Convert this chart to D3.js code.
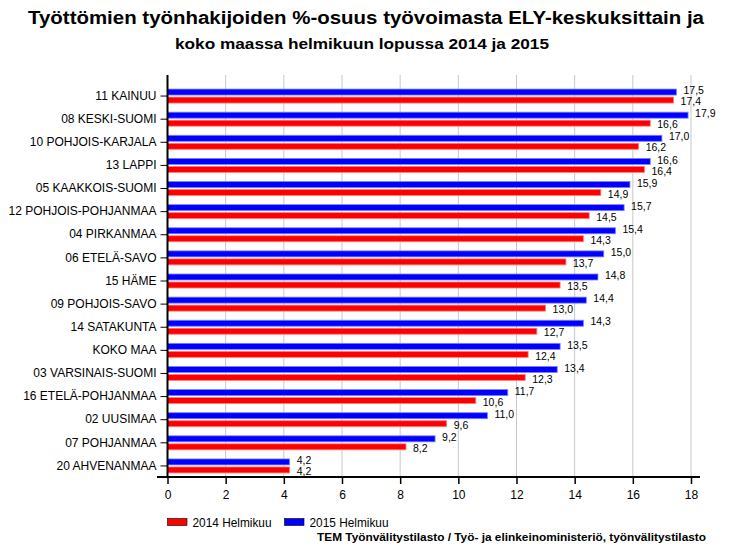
<!DOCTYPE html>
<html>
<head>
<meta charset="utf-8">
<script src="https://cdn.jsdelivr.net/npm/d3@7"></script>
<style>
  html, body { margin: 0; padding: 0; background: #fff; }
  svg { display: block; font-family: "Liberation Sans", Arial, sans-serif; }
</style>
</head>
<body>
<svg id="chart" width="732" height="549"></svg>
<script>
const categories = [
  "11 KAINUU", "08 KESKI-SUOMI", "10 POHJOIS-KARJALA", "13 LAPPI",
  "05 KAAKKOIS-SUOMI", "12 POHJOIS-POHJANMAA", "04 PIRKANMAA", "06 ETELÄ-SAVO",
  "15 HÄME", "09 POHJOIS-SAVO", "14 SATAKUNTA", "KOKO MAA",
  "03 VARSINAIS-SUOMI", "16 ETELÄ-POHJANMAA", "02 UUSIMAA", "07 POHJANMAA",
  "20 AHVENANMAA"
];
const values2015 = [17.5, 17.9, 17.0, 16.6, 15.9, 15.7, 15.4, 15.0, 14.8, 14.4, 14.3, 13.5, 13.4, 11.7, 11.0, 9.2, 4.2];
const values2014 = [17.4, 16.6, 16.2, 16.4, 14.9, 14.5, 14.3, 13.7, 13.5, 13.0, 12.7, 12.4, 12.3, 10.6, 9.6, 8.2, 4.2];
const xTicks = [0, 2, 4, 6, 8, 10, 12, 14, 16, 18];
const seriesNames = ["2014 Helmikuu", "2015 Helmikuu"];
const titleText = "Työttömien työnhakijoiden %-osuus työvoimasta ELY-keskuksittain ja";
const subtitleText = "koko maassa helmikuun lopussa 2014 ja 2015";
const sourceText = "TEM Työnvälitystilasto / Työ- ja elinkeinoministeriö, työnvälitystilasto";

const svg = d3.select("#chart");
const x0 = 167.5, x1 = 691;
const plotTop = 75, plotBottom = 477;

const x = d3.scaleLinear().domain([0, 18]).range([x0, x1]);
const y = d3.scaleBand().domain(categories).range([84.5, 477.5]);
const fmt = v => d3.format(".1f")(v).replace(".", ",");

// Title
svg.append("text").attr("x", 366).attr("y", 24).attr("text-anchor", "middle")
  .attr("font-size", 18).attr("font-weight", "bold")
  .attr("textLength", 676).attr("lengthAdjust", "spacingAndGlyphs").text(titleText);
svg.append("text").attr("x", 362).attr("y", 49).attr("text-anchor", "middle")
  .attr("font-size", 15).attr("font-weight", "bold")
  .attr("textLength", 374).attr("lengthAdjust", "spacingAndGlyphs").text(subtitleText);

// Gridlines
svg.append("g").selectAll("line").data(xTicks.filter(d => d > 0)).join("line")
  .attr("x1", d => x(d)).attr("x2", d => x(d))
  .attr("y1", plotTop).attr("y2", plotBottom)
  .attr("stroke", "#c8c8c8").attr("stroke-width", 1);

// Bars
const cy = d => y(d) + y.bandwidth() / 2;
const barG = svg.append("g");
const data = categories.map((c, i) => ({ c, v15: values2015[i], v14: values2014[i] }));

barG.selectAll("rect.b15").data(data).join("rect").attr("class", "b15")
  .attr("x", x(0)).attr("y", d => cy(d.c) - 7)
  .attr("width", d => x(d.v15) - x(0)).attr("height", 6)
  .attr("fill", "#0000ff").attr("stroke", "#7f7fff").attr("stroke-width", 0.8);
barG.selectAll("rect.b14").data(data).join("rect").attr("class", "b14")
  .attr("x", x(0)).attr("y", d => cy(d.c) + 1)
  .attr("width", d => x(d.v14) - x(0)).attr("height", 6)
  .attr("fill", "#ff0000").attr("stroke", "#ff8080").attr("stroke-width", 0.8);

// Value labels
barG.selectAll("text.l15").data(data).join("text").attr("class", "l15")
  .attr("x", d => x(d.v15) + 7).attr("y", d => cy(d.c) - 5.5).attr("dy", "0.35em")
  .attr("font-size", 10.5).attr("fill", "#000").text(d => fmt(d.v15));
barG.selectAll("text.l14").data(data).join("text").attr("class", "l14")
  .attr("x", d => x(d.v14) + 7).attr("y", d => cy(d.c) + 5.5).attr("dy", "0.35em")
  .attr("font-size", 10.5).attr("fill", "#000").text(d => fmt(d.v14));

// Y axis
const yAxis = svg.append("g").attr("transform", `translate(${x0},0)`)
  .call(d3.axisLeft(y).tickSize(7).tickPadding(4));
yAxis.select(".domain").remove();
yAxis.selectAll("text").attr("font-size", 12).attr("font-family", "Liberation Sans, Arial, sans-serif").attr("fill", "#000")
  .attr("dy", "0.35em").attr("y", -0.5);
yAxis.selectAll(".tick line").attr("stroke", "#000");
svg.append("line").attr("x1", x0).attr("x2", x0).attr("y1", plotTop).attr("y2", plotBottom)
  .attr("stroke", "#000").attr("stroke-width", 2);

// X axis
const xAxis = svg.append("g").attr("transform", `translate(0,${plotBottom})`)
  .call(d3.axisBottom(x).tickValues(xTicks).tickFormat(d3.format("d")).tickSize(7).tickPadding(6));
xAxis.select(".domain").remove();
xAxis.selectAll("text").attr("font-size", 12).attr("font-family", "Liberation Sans, Arial, sans-serif").attr("fill", "#000");
xAxis.selectAll(".tick line").attr("stroke", "#000").attr("stroke-width", 1.5);
svg.append("line").attr("x1", 157).attr("x2", 700).attr("y1", plotBottom).attr("y2", plotBottom)
  .attr("stroke", "#000").attr("stroke-width", 2);

// Legend
const legend = svg.append("g");
const legendItems = [
  { name: seriesNames[0], fill: "#ff0000", x: 167.5 },
  { name: seriesNames[1], fill: "#0000ff", x: 284.5 }
];
legendItems.forEach(it => {
  legend.append("rect").attr("x", it.x).attr("y", 518.5).attr("width", 19.5).attr("height", 7)
    .attr("fill", it.fill).attr("stroke", "#000").attr("stroke-width", 0.6);
  legend.append("text").attr("x", it.x + 25).attr("y", 526.5).attr("font-size", 12)
    .attr("textLength", 79).attr("lengthAdjust", "spacingAndGlyphs").text(it.name);
});

// Source
svg.append("text").attr("x", 706).attr("y", 541).attr("text-anchor", "end")
  .attr("font-size", 11.5).attr("font-weight", "bold")
  .attr("textLength", 389).attr("lengthAdjust", "spacingAndGlyphs").text(sourceText);
</script>
</body>
</html>
